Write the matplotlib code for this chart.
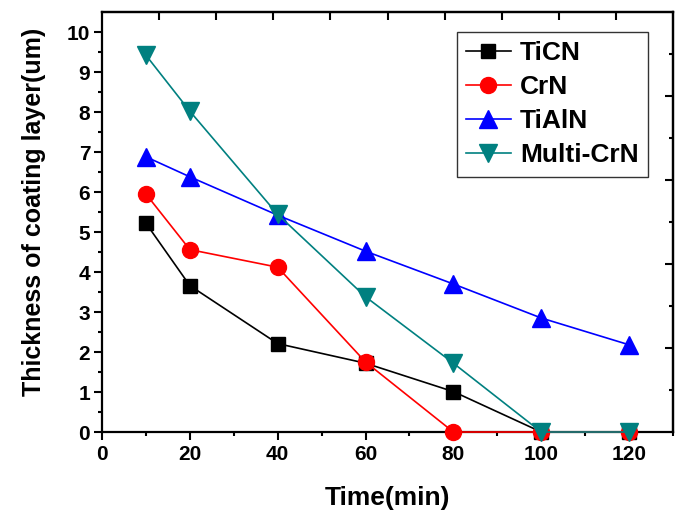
import matplotlib
matplotlib.use('Agg')
import matplotlib.pyplot as plt
import numpy as np

plt.rcParams['font.family'] = ['Liberation Sans', 'DejaVu Sans']
plt.rcParams['font.weight'] = 'bold'

# data
time = [10, 20, 40, 60, 80, 100, 120]
ticn = [5.22, 3.66, 2.21, 1.72, 1.01, 0, 0]
crn = [5.95, 4.56, 4.12, 1.75, 0, 0, 0]
tialn = [6.88, 6.38, 5.42, 4.52, 3.70, 2.85, 2.18]
multi_crn = [9.42, 8.02, 5.44, 3.38, 1.72, 0, 0]

series = [
    ('TiCN', ticn, 'black', 's', 9.5),
    ('CrN', crn, 'red', 'o', 11.5),
    ('TiAlN', tialn, 'blue', '^', 13),
    ('Multi-CrN', multi_crn, '#008080', 'v', 13),
]

fig = plt.figure(figsize=(6.91, 5.22), dpi=100)
ax = fig.add_axes([0.1476, 0.1724, 0.8264, 0.8046])

for name, vals, col, mk, ms in series:
    ax.plot(time, vals, color=col, marker=mk, markersize=ms, lw=1.2,
            label=name, clip_on=False, zorder=3)

ax.set_xlim(0, 130)
ax.set_ylim(0, 10.5)
ax.set_xticks(np.arange(0, 121, 20))
ax.set_xticks(np.arange(10, 131, 20), minor=True)
ax.set_yticks(np.arange(0, 11, 1))
ax.set_yticks(np.arange(0.5, 10.5, 1), minor=True)
# bottom / left ticks point outward, like Origin
ax.tick_params(axis='both', which='major', direction='out', length=5.5, width=1.5,
               labelsize=15, pad=3)
ax.tick_params(axis='both', which='minor', direction='out', length=3, width=1.5)
ax.tick_params(axis='x', which='major', pad=4)
for s in ax.spines.values():
    s.set_linewidth(1.6)

# top and right axes, ticks only, pointing in
top = ax.secondary_xaxis('top')
top.set_xticks(np.arange(26, 130, 26))
top.set_xticks(np.arange(13, 130, 26), minor=True)
top.tick_params(which='both', direction='in', length=5.5, width=1.5, labeltop=False)
top.set_xticklabels([])
top.spines['top'].set_linewidth(1.6)

right = ax.secondary_yaxis('right')
right.set_yticks(np.arange(2.1, 10.5, 2.1))
right.set_yticks(np.arange(1.05, 10.5, 2.1), minor=True)
right.tick_params(which='major', direction='in', length=6, width=1.5, labelright=False)
right.tick_params(which='minor', direction='in', length=3, width=1.5)
right.set_yticklabels([])
right.spines['right'].set_linewidth(1.6)

ax.set_xlabel('Time(min)', fontsize=19, fontweight='bold', va='top')
ax.xaxis.set_label_coords(0.5, -0.128)
ax.set_ylabel('Thickness of coating layer(um)', fontsize=18, fontweight='bold')
ax.yaxis.set_label_coords(-0.098, 0.524)

leg = ax.legend(loc='upper right', bbox_to_anchor=(0.956, 0.952), borderaxespad=0,
                frameon=True, fancybox=False, edgecolor='black', handlelength=1.7,
                borderpad=0.35, labelspacing=0.38, handletextpad=0.35,
                prop={'weight': 'bold', 'size': 19})
leg.get_frame().set_linewidth(1.0)

fig.savefig('out.png', dpi=100)
